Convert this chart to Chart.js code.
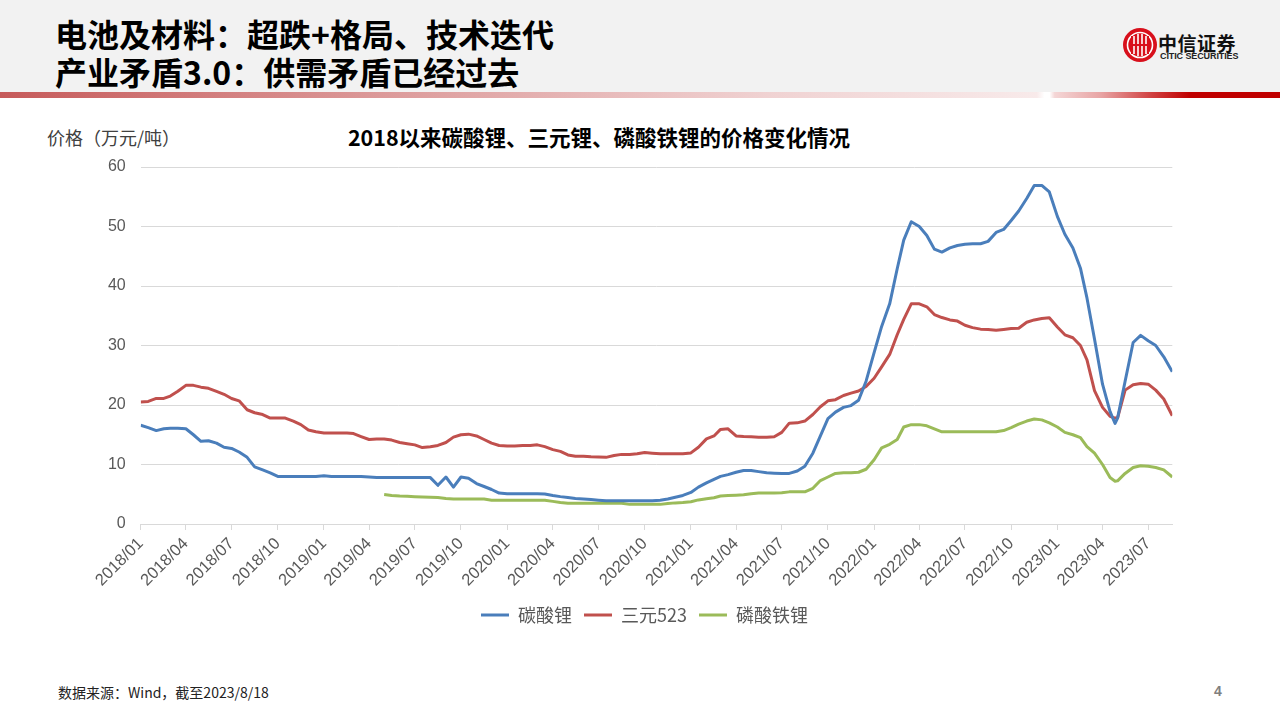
<!DOCTYPE html>
<html>
<head>
<meta charset="utf-8">
<script src="https://cdn.jsdelivr.net/npm/chart.js@4.4.0/dist/chart.umd.min.js"></script>
<style>
  html, body { margin: 0; padding: 0; }
  body { width: 1280px; height: 720px; position: relative; overflow: hidden; background: #fff;
         font-family: "Noto Sans CJK SC", "Liberation Sans", sans-serif; }
  .header { position: absolute; left: 0; top: 0; width: 1280px; height: 92px; background: #f2f2f2; }
  .bar { position: absolute; left: 0; top: 92px; width: 1280px; height: 6px;
         background: linear-gradient(to right, #c65a5a 0%, #dc9a9a 30%, #f0d2d2 60%, #f8eaea 81%, #fff 81.6%, #fff 82%, #f4d6d6 82.4%, #e8a4a4 86%, #d04040 90%, #c00000 93%, #c00000 100%); }
  .title { position: absolute; left: 55px; font-weight: bold; font-size: 32px; color: #000; line-height: 34px; white-space: nowrap; }
  .logo-cn { position: absolute; left: 1158px; top: 29px; font-size: 19px; font-weight: bold; color: #111; letter-spacing: 0.5px; }
  .logo-en { position: absolute; left: 1160px; top: 51px; font-family: "Liberation Sans", sans-serif; font-size: 9px; font-weight: bold; color: #222; letter-spacing: -0.1px; }
  .ylabel { position: absolute; left: 47px; top: 124px; font-size: 18px; color: #404040; }
  .ctitle { position: absolute; left: 0; width: 1198px; top: 121px; text-align: center; font-size: 21.5px; font-weight: bold; color: #000; }
  .src { position: absolute; left: 58px; top: 682px; font-size: 14px; color: #222; }
  .page { position: absolute; left: 1214px; top: 683px; font-size: 14px; font-weight: bold; color: #7f7f7f; font-family: "Liberation Sans", sans-serif; }
  #chart { position: absolute; left: 9px; top: 100px; }
</style>
</head>
<body>
<div class="header"></div>
<div class="bar"></div>
<div class="title" style="top:16px">电池及材料：超跌+格局、技术迭代</div>
<div class="title" style="top:54px">产业矛盾3.0：供需矛盾已经过去</div>
<svg style="position:absolute;left:1122px;top:27px" width="36" height="36" viewBox="0 0 36 36">
  <circle cx="18" cy="18" r="17" fill="#d8101c"/>
  <circle cx="18" cy="18" r="12.5" fill="none" stroke="#fff" stroke-width="1.6"/>
  <rect x="9" y="9" width="18" height="18" fill="#d8101c"/>
  <line x1="12" y1="9" x2="12" y2="27" stroke="#fff" stroke-width="1.6"/>
  <line x1="16" y1="7" x2="16" y2="29" stroke="#fff" stroke-width="1.6"/>
  <line x1="20" y1="7" x2="20" y2="29" stroke="#fff" stroke-width="1.6"/>
  <line x1="24" y1="9" x2="24" y2="27" stroke="#fff" stroke-width="1.6"/>
  <line x1="9" y1="18" x2="27" y2="18" stroke="#d8101c" stroke-width="2"/>
</svg>
<div class="logo-cn">中信证券</div>
<div class="logo-en">CITIC SECURITIES</div>
<div class="ylabel">价格（万元/吨）</div>
<div class="ctitle">2018以来碳酸锂、三元锂、磷酸铁锂的价格变化情况</div>
<canvas id="chart" width="1271" height="560"></canvas>
<div class="src">数据来源：Wind，截至2023/8/18</div>
<div class="page">4</div>
<script>
const dates = [
  "2018-01-01","2018-01-16","2018-02-01","2018-02-16","2018-03-01","2018-03-16","2018-04-01","2018-04-16",
  "2018-05-01","2018-05-16","2018-06-01","2018-06-16","2018-07-01","2018-07-16","2018-08-01","2018-08-16",
  "2018-09-01","2018-09-16","2018-10-01","2018-10-16","2018-11-01","2018-11-16","2018-12-01","2018-12-16",
  "2019-01-01","2019-01-16","2019-02-01","2019-02-16","2019-03-01","2019-03-16","2019-04-01","2019-04-16",
  "2019-05-01","2019-05-16","2019-06-01","2019-06-16","2019-07-01","2019-07-16","2019-08-01","2019-08-16",
  "2019-09-01","2019-09-16","2019-10-01","2019-10-16","2019-11-01","2019-11-16","2019-12-01","2019-12-16",
  "2020-01-01","2020-01-16","2020-02-01","2020-02-16","2020-03-01","2020-03-16","2020-04-01","2020-04-16",
  "2020-05-01","2020-05-16","2020-06-01","2020-06-16","2020-07-01","2020-07-16","2020-08-01","2020-08-16",
  "2020-09-01","2020-09-16","2020-10-01","2020-10-16","2020-11-01","2020-11-16","2020-12-01","2020-12-16",
  "2021-01-01","2021-01-16","2021-02-01","2021-02-16","2021-03-01","2021-03-16","2021-04-01","2021-04-16",
  "2021-05-01","2021-05-16","2021-06-01","2021-06-16","2021-07-01","2021-07-16","2021-08-01","2021-08-16",
  "2021-09-01","2021-09-16","2021-10-01","2021-10-16","2021-11-01","2021-11-16","2021-12-01","2021-12-16",
  "2022-01-01","2022-01-16","2022-02-01","2022-02-16","2022-03-01","2022-03-16","2022-04-01","2022-04-16",
  "2022-05-01","2022-05-16","2022-06-01","2022-06-16","2022-07-01","2022-07-16","2022-08-01","2022-08-16",
  "2022-09-01","2022-09-16","2022-10-01","2022-10-16","2022-11-01","2022-11-16","2022-12-01","2022-12-16",
  "2023-01-01","2023-01-16","2023-02-01","2023-02-16","2023-03-01","2023-03-16","2023-04-01","2023-04-16",
  "2023-04-26","2023-05-01","2023-05-16","2023-06-01","2023-06-16","2023-07-01","2023-07-16","2023-08-01",
  "2023-08-18"
];

// 碳酸锂
const lithiumCarbonate = [
  16.6,16.2,15.7,16.0,16.1,16.1,16.0,15.0,13.9,14.0,13.6,12.9,12.7,12.1,11.2,9.6,9.1,8.6,8.0,8.0,8.0,8.0,8.0,8.0,
  8.1,8.0,8.0,8.0,8.0,8.0,7.9,7.8,7.8,7.8,7.8,7.8,7.8,7.8,7.8,6.5,7.9,6.2,7.9,7.7,6.8,6.3,5.8,5.2,
  5.1,5.1,5.1,5.1,5.1,5.05,4.8,4.6,4.45,4.3,4.2,4.1,4.0,3.9,3.9,3.9,3.9,3.9,3.9,3.9,4.0,4.2,4.5,4.8,
  5.3,6.2,6.9,7.5,8.0,8.3,8.7,9.0,9.0,8.8,8.6,8.55,8.5,8.5,8.9,9.7,11.9,14.8,17.7,18.8,19.6,19.9,20.8,24.0,
  28.8,33.2,37.0,42.9,47.7,50.8,50.0,48.5,46.2,45.7,46.4,46.8,47.0,47.1,47.1,47.5,49.0,49.5,51.0,52.6,54.7,56.9,56.9,55.8,
  51.7,48.7,46.4,43.0,38.0,31.1,23.5,18.9,16.9,17.8,24.0,30.5,31.7,30.8,30.0,28.1,25.6
];

// 三元523
const ternary523 = [
  20.5,20.6,21.1,21.1,21.5,22.3,23.3,23.3,23.0,22.8,22.3,21.8,21.1,20.7,19.2,18.7,18.4,17.8,17.8,17.8,17.3,16.7,15.8,15.5,
  15.3,15.3,15.3,15.3,15.2,14.7,14.2,14.3,14.3,14.1,13.7,13.5,13.3,12.85,13.0,13.2,13.7,14.6,15.0,15.1,14.8,14.2,13.6,13.2,
  13.1,13.1,13.2,13.2,13.3,13.0,12.5,12.2,11.6,11.4,11.4,11.3,11.25,11.2,11.5,11.7,11.7,11.8,12.0,11.9,11.8,11.8,11.8,11.8,
  11.95,12.9,14.3,14.8,15.9,16.0,14.8,14.7,14.65,14.6,14.6,14.65,15.4,16.95,17.0,17.3,18.4,19.7,20.7,20.9,21.6,22.0,22.35,23.1,
  24.5,26.4,28.5,31.8,34.4,37.0,37.0,36.5,35.2,34.7,34.3,34.1,33.4,33.0,32.75,32.7,32.55,32.7,32.85,32.9,33.9,34.3,34.55,34.65,
  33.1,31.8,31.3,30.0,27.6,22.4,19.6,18.1,17.8,17.85,22.5,23.4,23.6,23.5,22.5,21.0,18.2
];

// 磷酸铁锂
const lithiumIronPhosphate = [
  null,null,null,null,null,null,null,null,null,null,null,null,null,null,null,null,null,null,null,null,null,null,null,null,
  null,null,null,null,null,null,null,null,4.95,4.8,4.7,4.65,4.6,4.55,4.5,4.45,4.3,4.2,4.2,4.2,4.2,4.2,4.0,4.0,
  4.0,4.0,4.0,4.0,4.0,4.0,3.8,3.6,3.5,3.5,3.5,3.5,3.5,3.5,3.5,3.5,3.3,3.3,3.3,3.3,3.3,3.45,3.55,3.6,
  3.75,4.05,4.25,4.4,4.7,4.8,4.85,4.9,5.1,5.2,5.2,5.2,5.25,5.4,5.4,5.4,6.0,7.3,7.9,8.5,8.6,8.6,8.7,9.2,
  10.8,12.8,13.4,14.2,16.3,16.7,16.7,16.5,16.0,15.5,15.5,15.5,15.5,15.5,15.5,15.5,15.5,15.7,16.2,16.8,17.3,17.65,17.5,17.0,
  16.3,15.4,15.0,14.5,13.0,11.9,10.0,7.8,7.2,7.25,8.5,9.5,9.8,9.7,9.5,9.1,7.9
];

const tickLabels = [
  "2018/01","2018/04","2018/07","2018/10","2019/01","2019/04","2019/07","2019/10",
  "2020/01","2020/04","2020/07","2020/10","2021/01","2021/04","2021/07","2021/10",
  "2022/01","2022/04","2022/07","2022/10","2023/01","2023/04","2023/07"
];

const seriesNames = ["碳酸锂", "三元523", "磷酸铁锂"];
const seriesColors = ["#4a7ebb", "#c0504d", "#9bbb59"];

function dayOf(s) {
  const p = s.split(/[-\/]/).map(Number);
  return (Date.UTC(p[0], p[1] - 1, p[2] || 1) - Date.UTC(2018, 0, 1)) / 86400000;
}

const labelByDay = {};
tickLabels.forEach(l => { labelByDay[dayOf(l)] = l; });

function toPoints(values) {
  return dates.map((d, i) => ({ x: dayOf(d), y: values[i] }));
}

Chart.defaults.font.family = '"Liberation Sans", "Noto Sans CJK SC", sans-serif';

const allSeries = [lithiumCarbonate, ternary523, lithiumIronPhosphate];

new Chart(document.getElementById("chart"), {
  type: "line",
  data: {
    datasets: allSeries.map((vals, i) => ({
      label: seriesNames[i],
      data: toPoints(vals),
      borderColor: seriesColors[i],
      backgroundColor: seriesColors[i],
      borderWidth: 3,
      pointRadius: 0,
      tension: 0,
      borderJoinStyle: "round",
      spanGaps: false,
    })),
  },
  options: {
    responsive: false,
    animation: false,
    layout: { padding: { top: 67, right: 0, bottom: 26, left: 0 } },
    scales: {
      x: {
        type: "linear",
        min: 0,
        max: dayOf(dates[dates.length - 1]),
        afterBuildTicks: axis => { axis.ticks = tickLabels.map(l => ({ value: dayOf(l) })); },
        afterFit: s => { s.height = 70; },
        ticks: {
          autoSkip: false,
          minRotation: 45,
          maxRotation: 45,
          color: "#595959",
          font: { size: 16.5 },
          padding: 4,
          callback: v => labelByDay[v],
        },
        grid: { drawOnChartArea: false, color: "#d9d9d9", tickLength: 6 },
        border: { color: "#d9d9d9" },
      },
      y: {
        min: 0,
        max: 60,
        afterFit: s => { s.width = 131.7; },
        ticks: { stepSize: 10, color: "#595959", font: { size: 16 }, padding: 15 },
        grid: { color: "#d9d9d9", drawTicks: false },
        border: { display: false },
      },
      // empty right-hand margin, keeps the legend centred on the whole canvas
      yRight: {
        position: "right",
        min: 0,
        max: 60,
        afterFit: s => { s.width = 107.7; },
        ticks: { display: false },
        grid: { display: false },
        border: { display: false },
      },
    },
    plugins: {
      title: { display: false },
      tooltip: { enabled: false },
      legend: {
        position: "bottom",
        labels: {
          boxWidth: 28,
          boxHeight: 3,
          padding: 12,
          color: "#595959",
          font: { size: 18, family: '"Noto Sans CJK SC", "Liberation Sans", sans-serif' },
          generateLabels: chart =>
            Chart.defaults.plugins.legend.labels.generateLabels(chart).map(l => ({ ...l, lineWidth: 0 })),
        },
      },
    },
  },
});
</script>
</body>
</html>
